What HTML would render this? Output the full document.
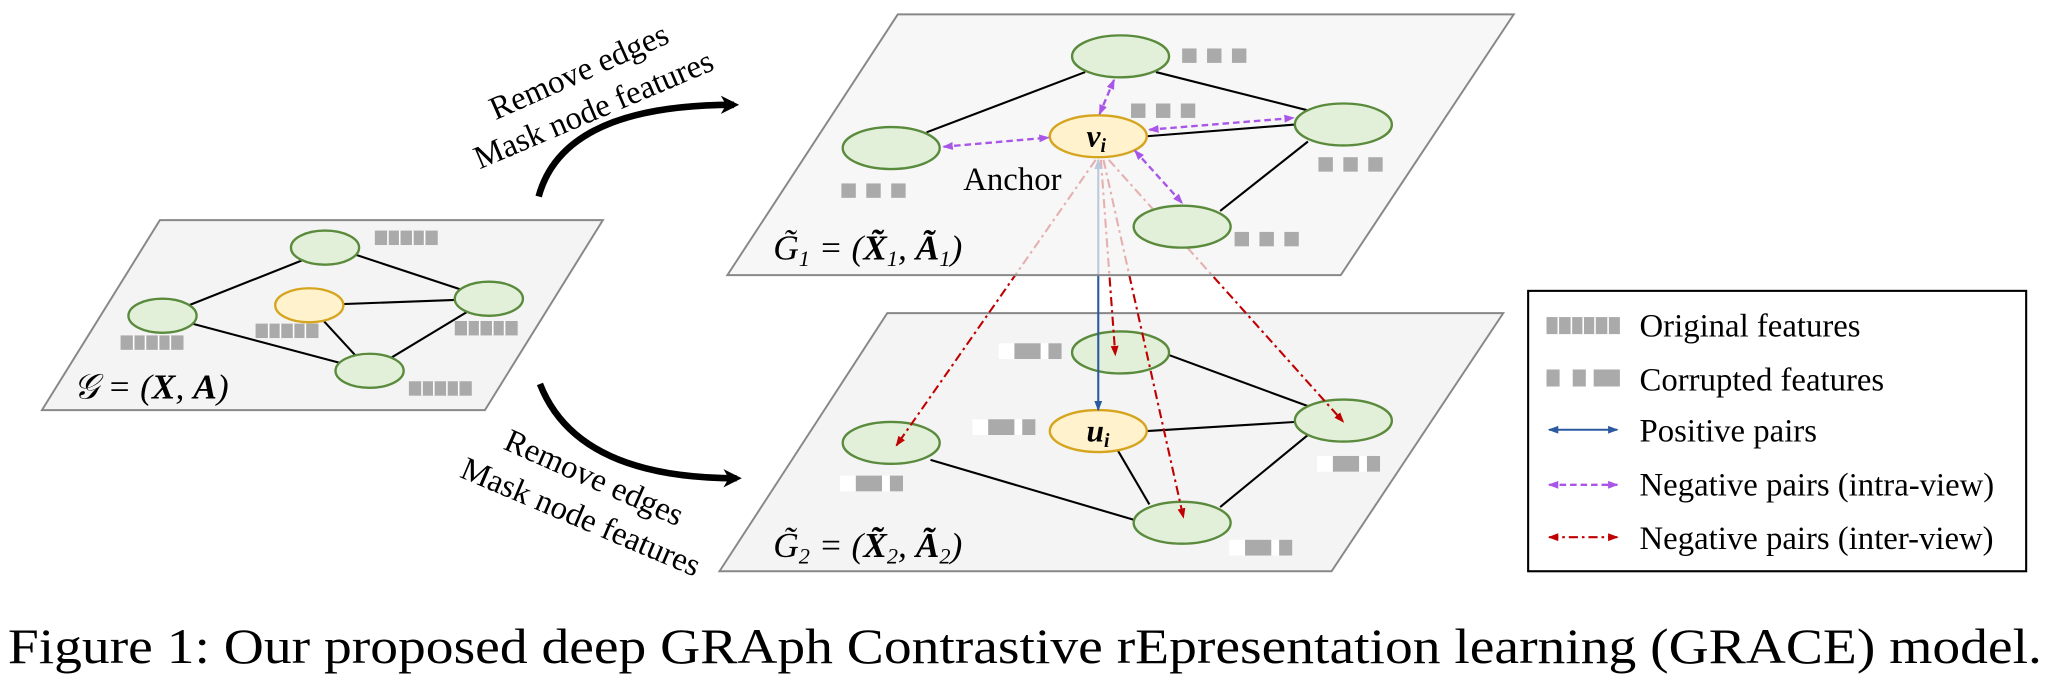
<!DOCTYPE html>
<html><head><meta charset="utf-8"><style>
html,body{margin:0;padding:0;background:#fff;}
svg{display:block;}
text{font-family:"Liberation Serif",serif;}
</style></head><body>
<svg width="2055" height="680" viewBox="0 0 1568 519" preserveAspectRatio="none" xmlns="http://www.w3.org/2000/svg">
<defs>
<marker id="pa" markerWidth="8" markerHeight="8" refX="7" refY="4" orient="auto-start-reverse" markerUnits="userSpaceOnUse"><path d="M0,1 L8,4 L0,7 Z" fill="#a855e8"/></marker>
<marker id="ra" markerWidth="8" markerHeight="8" refX="7" refY="4" orient="auto-start-reverse" markerUnits="userSpaceOnUse"><path d="M0,1 L8,4 L0,7 Z" fill="#c00000"/></marker>
<marker id="ba" markerWidth="8" markerHeight="8" refX="7" refY="4" orient="auto-start-reverse" markerUnits="userSpaceOnUse"><path d="M0,1 L8,4 L0,7 Z" fill="#2c5aa0"/></marker>
<marker id="ka" markerWidth="14" markerHeight="14" refX="10" refY="7" orient="auto" markerUnits="userSpaceOnUse"><path d="M0,0 L14,7 L0,14 L4,7 Z" fill="#000"/></marker>
</defs>

<!-- Left panel -->
<polygon points="122,168 460,168 370,313 32,313" fill="#f4f4f4" stroke="#888" stroke-width="1.5"/>
<g stroke="#000" stroke-width="1.6">
<line x1="255" y1="189" x2="124" y2="241"/><line x1="255" y1="189" x2="373" y2="228"/>
<line x1="236" y1="233" x2="373" y2="228"/><line x1="236" y1="233" x2="282" y2="283"/>
<line x1="124" y1="241" x2="282" y2="283"/><line x1="373" y1="228" x2="282" y2="283"/>
</g>
<g stroke="#5a8a3c" stroke-width="1.8" fill="#e2f0d9">
<ellipse cx="248" cy="189" rx="26" ry="13"/><ellipse cx="124" cy="241" rx="26" ry="13"/>
<ellipse cx="373" cy="228" rx="26" ry="13"/><ellipse cx="282" cy="283" rx="26" ry="13"/>
</g>
<ellipse cx="236" cy="233" rx="26" ry="13" fill="#fff2cc" stroke="#d6a520" stroke-width="1.8"/>
<g fill="#aaa">
<rect x="286" y="176" width="48" height="11"/><rect x="92" y="256" width="48" height="11"/>
<rect x="195" y="247" width="48" height="11"/><rect x="347" y="245" width="48" height="11"/>
<rect x="312" y="291" width="48" height="11"/>
</g>
<g stroke="#fff" stroke-width="1.2">
<path d="M296,176v11M305,176v11M315,176v11M324,176v11 M102,256v11M111,256v11M121,256v11M130,256v11 M205,247v11M214,247v11M224,247v11M233,247v11 M357,245v11M366,245v11M376,245v11M385,245v11 M322,291v11M331,291v11M341,291v11M350,291v11"/>
</g>
<text x="56" y="304" font-size="27" font-style="italic">𝒢 = (<tspan font-weight="bold">X</tspan>, <tspan font-weight="bold">A</tspan>)</text>

<!-- Big arrows -->
<path d="M411,150 Q430,80 560,80" fill="none" stroke="#000" stroke-width="5" marker-end="url(#ka)"/>
<path d="M412,293 Q440,365 562,365" fill="none" stroke="#000" stroke-width="5" marker-end="url(#ka)"/>
<text font-size="25" text-anchor="middle" transform="translate(445,62) rotate(-24)">Remove edges</text>
<text font-size="25" text-anchor="middle" transform="translate(456,91) rotate(-23)">Mask node features</text>
<text font-size="25" text-anchor="middle" transform="translate(450,372) rotate(24)">Remove edges</text>
<text font-size="25" text-anchor="middle" transform="translate(440,402) rotate(23)">Mask node features</text>

<!-- Bottom panel -->
<polygon points="677,239 1147,239 1016,436 549,436" fill="#f4f4f4" stroke="#888" stroke-width="1.5"/>
<g stroke="#000" stroke-width="1.6">
<line x1="710" y1="351" x2="866" y2="397"/><line x1="892" y1="271" x2="998" y2="310"/>
<line x1="875" y1="329" x2="989" y2="322"/><line x1="853" y1="344" x2="877" y2="385"/>
<line x1="998" y1="332" x2="931" y2="387"/>
</g>
<g stroke="#5a8a3c" stroke-width="1.8" fill="#e2f0d9">
<ellipse cx="855" cy="269" rx="37" ry="16"/><ellipse cx="680" cy="338" rx="37" ry="16"/>
<ellipse cx="1025" cy="321" rx="37" ry="16"/><ellipse cx="902" cy="399" rx="37" ry="16"/>
</g>
<ellipse cx="838" cy="329" rx="37" ry="16" fill="#fff2cc" stroke="#d6a520" stroke-width="1.8"/>
<text x="829" y="337" font-size="24" font-style="italic" font-weight="bold">u<tspan font-size="15" dy="4">i</tspan></text>
<text x="590" y="425" font-size="27" font-style="italic">G̃<tspan font-size="17" dy="5">2</tspan><tspan dy="-5"> = (</tspan><tspan font-weight="bold">X̃</tspan><tspan font-size="17" dy="5">2</tspan><tspan dy="-5">, </tspan><tspan font-weight="bold">Ã</tspan><tspan font-size="17" dy="5">2</tspan><tspan dy="-5">)</tspan></text>

<!-- inter-view red lines (under top panel) -->
<g stroke="#c00000" stroke-width="1.6" stroke-dasharray="7,3,2,3" fill="none">
<line x1="836" y1="122" x2="684" y2="340" marker-end="url(#ra)"/>
<line x1="840" y1="122" x2="851" y2="271" marker-end="url(#ra)"/>
<line x1="842" y1="122" x2="903" y2="395" marker-end="url(#ra)"/>
<line x1="846" y1="122" x2="1025" y2="322" marker-end="url(#ra)"/>
</g>
<line x1="838" y1="122" x2="838" y2="313" stroke="#2c5aa0" stroke-width="1.6" marker-start="url(#ba)" marker-end="url(#ba)"/>

<!-- Top panel -->
<polygon points="685,11 1155,11 1023,210 555,210" fill="#f4f4f4" fill-opacity="0.72" stroke="#888" stroke-width="1.5"/>
<g stroke="#000" stroke-width="1.6">
<line x1="707" y1="101" x2="828" y2="55"/><line x1="882" y1="55" x2="997" y2="84"/>
<line x1="875" y1="104" x2="989" y2="95"/><line x1="998" y1="108" x2="931" y2="161"/>
</g>
<g stroke="#5a8a3c" stroke-width="1.8" fill="#e2f0d9">
<ellipse cx="855" cy="43" rx="37" ry="16"/><ellipse cx="680" cy="113" rx="37" ry="16"/>
<ellipse cx="1025" cy="95" rx="37" ry="16"/><ellipse cx="902" cy="173" rx="37" ry="16"/>
</g>
<ellipse cx="838" cy="104" rx="37" ry="16" fill="#fff2cc" stroke="#d6a520" stroke-width="1.8"/>
<text x="829" y="112" font-size="24" font-style="italic" font-weight="bold">v<tspan font-size="15" dy="4">i</tspan></text>
<g stroke="#a855e8" stroke-width="1.8" stroke-dasharray="5,3" fill="none">
<line x1="720" y1="112" x2="800" y2="105" marker-start="url(#pa)" marker-end="url(#pa)"/>
<line x1="850" y1="61" x2="839" y2="87" marker-start="url(#pa)" marker-end="url(#pa)"/>
<line x1="877" y1="99" x2="987" y2="90" marker-start="url(#pa)" marker-end="url(#pa)"/>
<line x1="866" y1="115" x2="902" y2="155" marker-start="url(#pa)" marker-end="url(#pa)"/>
</g>
<text x="735" y="145" font-size="25">Anchor</text>
<text x="590" y="198" font-size="27" font-style="italic">G̃<tspan font-size="17" dy="5">1</tspan><tspan dy="-5"> = (</tspan><tspan font-weight="bold">X̃</tspan><tspan font-size="17" dy="5">1</tspan><tspan dy="-5">, </tspan><tspan font-weight="bold">Ã</tspan><tspan font-size="17" dy="5">1</tspan><tspan dy="-5">)</tspan></text>

<!-- corrupted feature bars -->
<g fill="#aaa">
<rect x="902" y="37" width="11" height="11"/><rect x="921" y="37" width="11" height="11"/><rect x="940" y="37" width="11" height="11"/>
<rect x="863" y="79" width="11" height="11"/><rect x="882" y="79" width="11" height="11"/><rect x="901" y="79" width="11" height="11"/>
<rect x="1006" y="120" width="11" height="11"/><rect x="1025" y="120" width="11" height="11"/><rect x="1044" y="120" width="11" height="11"/>
<rect x="942" y="177" width="11" height="11"/><rect x="961" y="177" width="11" height="11"/><rect x="980" y="177" width="11" height="11"/>
<rect x="642" y="140" width="11" height="11"/><rect x="661" y="140" width="11" height="11"/><rect x="680" y="140" width="11" height="11"/>
</g>
<g fill="#fff"><rect x="762" y="262" width="48" height="12"/><rect x="742" y="320" width="48" height="12"/><rect x="641" y="363" width="48" height="12"/><rect x="1005" y="348" width="48" height="12"/><rect x="938" y="412" width="48" height="12"/></g>
<g fill="#aaa">
<rect x="774" y="262" width="20" height="12"/><rect x="800" y="262" width="10" height="12"/>
<rect x="754" y="320" width="20" height="12"/><rect x="780" y="320" width="10" height="12"/>
<rect x="653" y="363" width="20" height="12"/><rect x="679" y="363" width="10" height="12"/>
<rect x="1017" y="348" width="20" height="12"/><rect x="1043" y="348" width="10" height="12"/>
<rect x="950" y="412" width="20" height="12"/><rect x="976" y="412" width="10" height="12"/>
</g>

<!-- Legend -->
<rect x="1166" y="222" width="380" height="214" fill="#fff" stroke="#000" stroke-width="1.6"/>
<rect x="1180" y="242" width="56" height="13" fill="#aaa"/>
<path d="M1189,242v13M1199,242v13M1208,242v13M1217,242v13M1227,242v13" stroke="#fff" stroke-width="1.2"/>
<rect x="1180" y="282" width="10" height="13" fill="#aaa"/><rect x="1200" y="282" width="10" height="13" fill="#aaa"/><rect x="1216" y="282" width="20" height="13" fill="#aaa"/>
<line x1="1182" y1="328" x2="1234" y2="328" stroke="#2c5aa0" stroke-width="1.6" marker-start="url(#ba)" marker-end="url(#ba)"/>
<line x1="1182" y1="370" x2="1234" y2="370" stroke="#a855e8" stroke-width="1.8" stroke-dasharray="5,3" marker-start="url(#pa)" marker-end="url(#pa)"/>
<line x1="1182" y1="410" x2="1234" y2="410" stroke="#c00000" stroke-width="1.6" stroke-dasharray="7,3,2,3" marker-start="url(#ra)" marker-end="url(#ra)"/>
<g font-size="25">
<text x="1251" y="257">Original features</text>
<text x="1251" y="298">Corrupted features</text>
<text x="1251" y="337">Positive pairs</text>
<text x="1251" y="378">Negative pairs (intra-view)</text>
<text x="1251" y="419">Negative pairs (inter-view)</text>
</g>

<text x="6" y="506" font-size="38" textLength="1552" lengthAdjust="spacingAndGlyphs">Figure 1: Our proposed deep GRAph Contrastive rEpresentation learning (GRACE) model.</text>
</svg>
</body></html>
